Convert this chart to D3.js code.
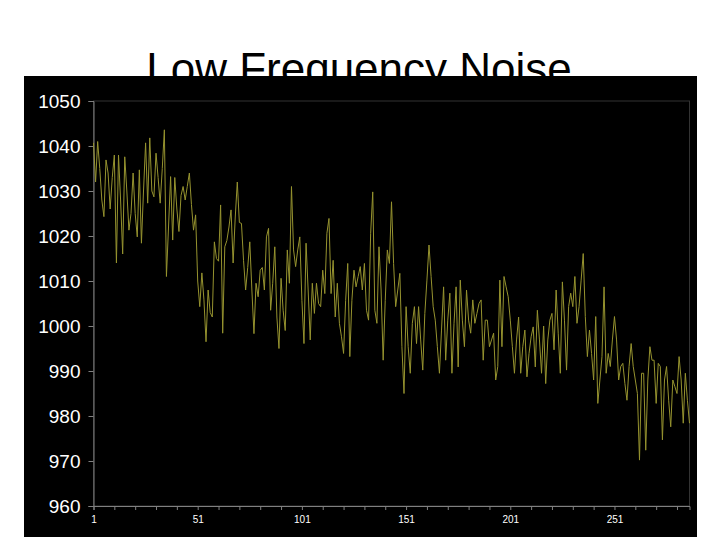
<!DOCTYPE html>
<html>
<head>
<meta charset="utf-8">
<script src="https://cdn.jsdelivr.net/npm/d3@7"></script>
<style>
  html, body { margin: 0; padding: 0; background: #ffffff; }
  svg { display: block; }
</style>
</head>
<body>
<svg id="chart" width="720" height="540"></svg>
<script>
const title = "Low Frequency Noise";

const values = [
  1040.7, 1032, 1041, 1035, 1028, 1024.3, 1036.9, 1034, 1026, 1033,
  1038, 1014, 1038, 1028, 1016, 1037.6, 1030, 1021.3, 1025, 1034,
  1025, 1019.8, 1034.7, 1018.4, 1030, 1040.7, 1027.3, 1041.8, 1030, 1028.7,
  1038.4, 1033, 1027.3, 1035, 1043.6, 1011, 1022, 1033.2, 1019.1, 1033,
  1026, 1021, 1029, 1031, 1028, 1031, 1034, 1027, 1021.3, 1024.7,
  1010, 1004.3, 1011.8, 1005.8, 996.5, 1008, 1003, 1002, 1018.7, 1015,
  1014.4, 1026.9, 998.4, 1017.6, 1019, 1022, 1025.8, 1014, 1024, 1032,
  1023, 1022.8, 1014.6, 1008, 1013, 1018.7, 1008, 998.3, 1009.5, 1006.5,
  1012.4, 1013, 1008, 1019.8, 1021.7, 1003.5, 1009.5, 1017.6, 1002, 995,
  1010.6, 1003.5, 999, 1016.9, 1009.5, 1031, 1016.9, 1013.2, 1016.9, 1019.8,
  1005.7, 996.1, 1018.4, 1008, 996.9, 1009.5, 1002.8, 1009.5, 1005, 1004.3,
  1012.4, 1007.2, 1020.6, 1023.9, 1007.2, 1014.6, 1002, 1009.5, 1000.6, 997.6,
  993.9, 1005.7, 1013.9, 993.2, 1005.7, 1012.4, 1008.7, 1011, 1013.2, 1008,
  1013.9, 1003.5, 1001.3, 1020.6, 1029.8, 1003.5, 1000.6, 1017.6, 1008, 992.4,
  1005.7, 1016.9, 1013.9, 1027.6, 1013.9, 1004.3, 1008, 1011.7, 995.4, 985,
  1004.3, 995.4, 989.5, 1000.6, 1004.3, 996.1, 1004.3, 996.9, 990.2, 1002.8,
  1010.2, 1018, 1011, 1004.3, 1001.3, 995.4, 989.5, 999.1, 1008.7, 992.4,
  1001.3, 1007.3, 989.5, 1000.6, 1008.7, 990.9, 1010.2, 1001.3, 995.4, 1008,
  1001.3, 998.4, 1005.8, 1000.6, 1002.8, 1005, 1005.8, 992.4, 1001.3, 1001.3,
  995.4, 996.9, 998.4, 988, 991, 1010.2, 995.4, 1011, 1008.7, 1006.5,
  1001.3, 995.4, 989.5, 996.9, 1002, 989.5, 995.4, 999.1, 988.7, 993.9,
  997.6, 999.8, 990.9, 1003.5, 996.9, 989.5, 1000, 987.2, 996.9, 1001.3,
  1002.8, 994.7, 1008, 998.4, 989.5, 1009.8, 1001.3, 990.2, 1004.3, 1007.3,
  1004.3, 1011, 1000.6, 1004.3, 1010.2, 1016.1, 1002.1, 993.2, 999.1, 993.9,
  988, 1002.1, 982.8, 988, 993.2, 1008.7, 989.5, 993.9, 991, 996.9,
  1002.1, 996.9, 988, 991, 991.7, 987.2, 983.5, 991, 996.1, 991,
  988, 985, 970.2, 989.5, 989.5, 972.4, 988, 995.4, 992.4, 992.4,
  982.8, 991.7, 991, 974.7, 988, 991, 983.5, 977.6, 988, 986.5,
  985, 993.2, 988, 978.4, 989.5, 983.5, 978.4
];

const yTicks = [960, 970, 980, 990, 1000, 1010, 1020, 1030, 1040, 1050];
const xTickLabels = [1, 51, 101, 151, 201, 251];
const xTickMarks = [1, 11, 21, 31, 41, 51, 61, 71, 81, 91, 101, 111, 121, 131, 141, 151,
                    161, 171, 181, 191, 201, 211, 221, 231, 241, 251, 261, 271, 281];

const categories = values.map((v, i) => i + 1);

const svg = d3.select("#chart");

// Title (partly hidden behind the chart panel)
svg.append("text")
  .attr("x", 359).attr("y", 84)
  .attr("text-anchor", "middle")
  .attr("font-family", "Liberation Sans, Arial, sans-serif")
  .attr("font-size", 44)
  .attr("fill", "#000")
  .text(title);

// Black chart panel
svg.append("rect")
  .attr("x", 24).attr("y", 76)
  .attr("width", 673).attr("height", 461)
  .attr("fill", "#000");

const plot = { left: 93.5, right: 689.5, top: 101, bottom: 506 };

const x = d3.scaleLinear()
  .domain([1, categories.length])
  .range([plot.left, plot.right]);

const y = d3.scaleLinear()
  .domain([960, 1050])
  .range([plot.bottom, plot.top]);

// plot area border
svg.append("rect")
  .attr("x", plot.left).attr("y", plot.top)
  .attr("width", plot.right - plot.left).attr("height", plot.bottom - plot.top)
  .attr("fill", "none")
  .attr("stroke", "#333333")
  .attr("stroke-width", 1);

// Y axis
const yAxis = d3.axisLeft(y).tickValues(yTicks).tickSize(5).tickPadding(8)
  .tickFormat(d3.format("d"));
const gy = svg.append("g")
  .attr("transform", `translate(${plot.left},0)`)
  .call(yAxis);
gy.select(".domain").attr("stroke", "#808080");
gy.selectAll(".tick line").attr("stroke", "#808080");
gy.selectAll(".tick text")
  .attr("fill", "#fff")
  .attr("font-family", "Liberation Sans, Arial, sans-serif")
  .attr("font-size", 19);

// X axis
const xAxis = d3.axisBottom(x).tickValues(xTickMarks).tickSize(4)
  .tickFormat(d => xTickLabels.includes(d) ? String(d) : "").tickPadding(6);
const gx = svg.append("g")
  .attr("transform", `translate(0,${plot.bottom})`)
  .call(xAxis);
gx.select(".domain").attr("stroke", "#808080");
gx.selectAll(".tick line").attr("stroke", "#808080");
gx.selectAll(".tick text")
  .attr("fill", "#fff")
  .attr("font-family", "Liberation Sans, Arial, sans-serif")
  .attr("font-size", 10);

// Series line
const line = d3.line()
  .x((d, i) => x(categories[i]))
  .y(d => y(d));

svg.append("path")
  .datum(values)
  .attr("d", line)
  .attr("fill", "none")
  .attr("stroke", "#96932f")
  .attr("stroke-width", 1);
</script>
</body>
</html>
